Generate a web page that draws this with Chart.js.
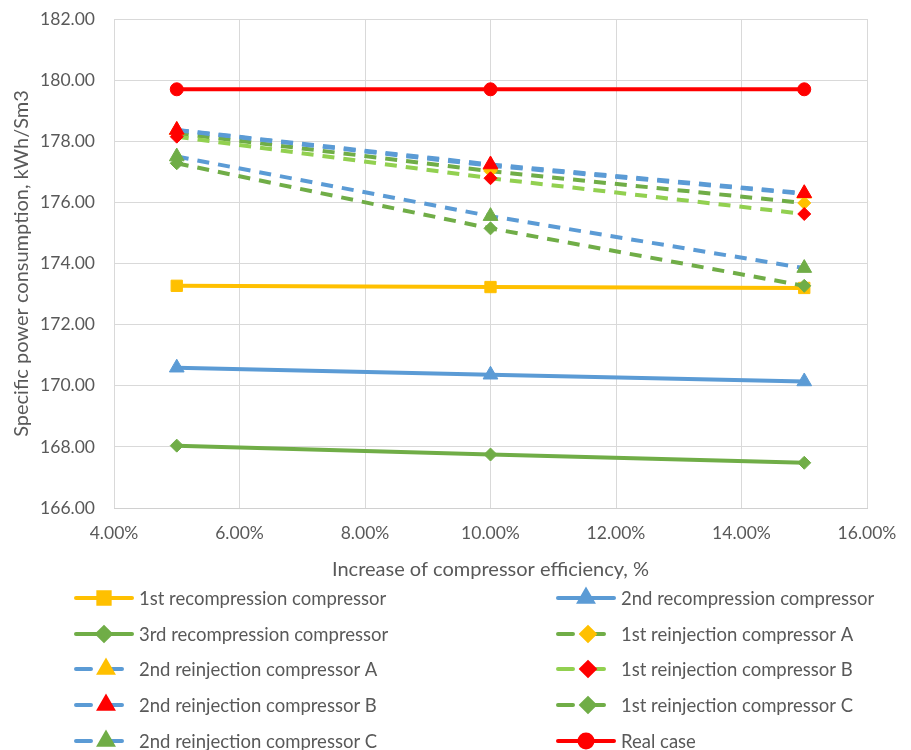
<!DOCTYPE html>
<html>
<head>
<meta charset="utf-8">
<script src="https://cdn.jsdelivr.net/npm/chart.js@4.4.0/dist/chart.umd.min.js"></script>
<style>
  html, body { margin: 0; padding: 0; background: #fff; }
  #wrap { width: 911px; height: 750px; }
</style>
</head>
<body>
<div id="wrap"><canvas id="chart" width="911" height="750"></canvas></div>
<script>
// efficiency increase (x values)
var efficiency = [0.05, 0.10, 0.15];

var seriesNames = [
    '1st recompression compressor',
    '2nd recompression compressor',
    '3rd recompression compressor',
    '1st reinjection compressor A',
    '2nd reinjection compressor A',
    '1st reinjection compressor B',
    '2nd reinjection compressor B',
    '1st reinjection compressor C',
    '2nd reinjection compressor C',
    'Real case'
];

// specific power consumption, kWh/Sm3
var recomp1 = [173.27, 173.23, 173.20];
var recomp2 = [170.59, 170.36, 170.14];
var recomp3 = [168.04, 167.75, 167.48];
var reinj1A = [178.26, 177.02, 175.98];
var reinj2A = [178.36, 177.20, 176.28];
var reinj1B = [178.15, 176.79, 175.62];
var reinj2B = [178.37, 177.24, 176.30];
var reinj1C = [177.28, 175.15, 173.27];
var reinj2C = [177.50, 175.55, 173.85];
var realCase = [179.70, 179.70, 179.70];

var yTicks = [166, 168, 170, 172, 174, 176, 178, 180, 182];
var xTicks = [0.04, 0.06, 0.08, 0.10, 0.12, 0.14, 0.16];

var YELLOW = '#FFC000', BLUE = '#5B9BD5', GREEN = '#70AD47', LIGHTGREEN = '#92D050', RED = '#FF0000';
var FONT = 'Lato';

function pts(values) {
    return values.map((v, i) => ({ x: efficiency[i], y: v }));
}

function makeSet(i, values, lineColor, markColor, style, dashed) {
    var r = 7;
    switch (style) {
        case 'rect': r = 8; break;
        case 'triangle': r = 8.5; break;
        case 'circle': r = 6.5; break;
        case 'rectRot': r = 6.5; break;
    }
    return {
        label: seriesNames[i],
        data: pts(values),
        borderColor: lineColor,
        backgroundColor: markColor,
        pointBackgroundColor: markColor,
        pointBorderColor: markColor,
        pointBorderWidth: 1,
        pointStyle: style,
        pointRadius: r,
        borderWidth: 4,
        borderDash: dashed ? [12, 9] : [],
        tension: 0,
        order: 20 - i
    };
}

var datasets = [
    makeSet(0, recomp1, YELLOW, YELLOW, 'rect', false),
    makeSet(1, recomp2, BLUE, BLUE, 'triangle', false),
    makeSet(2, recomp3, GREEN, GREEN, 'rectRot', false),
    makeSet(3, reinj1A, GREEN, YELLOW, 'rectRot', true),
    makeSet(4, reinj2A, BLUE, YELLOW, 'triangle', true),
    makeSet(5, reinj1B, LIGHTGREEN, RED, 'rectRot', true),
    makeSet(6, reinj2B, BLUE, RED, 'triangle', true),
    makeSet(7, reinj1C, GREEN, GREEN, 'rectRot', true),
    makeSet(8, reinj2C, BLUE, GREEN, 'triangle', true),
    makeSet(9, realCase, RED, RED, 'circle', false)
];

// two-column legend drawn under the axis title
var twoColLegend = {
    id: 'twoColLegend',
    afterDraw(chart) {
        var ctx = chart.ctx;
        var rows = [598, 634, 669, 705, 741];
        var cols = [75, 557];
        ctx.save();
        ctx.lineCap = 'round';
        chart.data.datasets.forEach((ds, i) => {
            var x0 = cols[i % 2], y = rows[Math.floor(i / 2)];
            var mx = x0 + 29;
            ctx.strokeStyle = ds.borderColor;
            ctx.lineWidth = 4;
            ctx.beginPath();
            if (ds.borderDash.length) {
                ctx.moveTo(x0 + 1, y); ctx.lineTo(x0 + 16, y);
                ctx.moveTo(x0 + 36, y); ctx.lineTo(x0 + 47, y);
                mx = x0 + 31;
            } else {
                ctx.moveTo(x0 + 1, y); ctx.lineTo(x0 + 57, y);
            }
            ctx.stroke();
            ctx.fillStyle = ds.pointBackgroundColor;
            ctx.strokeStyle = ds.pointBorderColor;
            Chart.helpers.drawPoint(ctx, {
                pointStyle: ds.pointStyle,
                radius: ds.pointStyle === 'triangle' ? 7.5 : ds.pointRadius,
                rotation: 0,
                borderWidth: 1
            }, mx, y);
            ctx.fillStyle = '#595959';
            ctx.font = '18.5px ' + FONT;
            ctx.textBaseline = 'middle';
            ctx.textAlign = 'left';
            ctx.fillText(ds.label, x0 + 64, y + 1);
        });
        ctx.restore();
    }
};

var ctx = document.getElementById('chart').getContext('2d');
var myChart = new Chart(ctx, {
    type: 'line',
    data: { datasets: datasets },
    options: {
        responsive: false,
        animation: false,
        layout: { padding: { left: 6, right: 44, top: 19, bottom: 164 } },
        plugins: {
            legend: { display: false },
            tooltip: { enabled: false }
        },
        scales: {
            x: {
                type: 'linear',
                min: 0.04,
                max: 0.16,
                afterBuildTicks: (s) => { s.ticks = xTicks.map(v => ({ value: v })); },
                afterFit: (s) => { s.height = 78; s.paddingRight = 0; s.paddingLeft = 0; },
                ticks: {
                    color: '#595959',
                    font: { family: FONT, size: 17.5 },
                    padding: 15,
                    maxRotation: 0,
                    callback: (v) => (v * 100).toFixed(2) + '%'
                },
                grid: { color: '#d9d9d9', lineWidth: 1, drawTicks: false },
                border: { color: '#d0d0d0', width: 1 },
                title: {
                    display: true,
                    text: 'Increase of compressor efficiency, %',
                    color: '#595959',
                    font: { family: FONT, size: 20 }
                }
            },
            y: {
                min: 166,
                max: 182,
                afterBuildTicks: (s) => { s.ticks = yTicks.map(v => ({ value: v })); },
                afterFit: (s) => { s.width = 108; s.paddingTop = 0; s.paddingBottom = 0; },
                ticks: {
                    color: '#595959',
                    font: { family: FONT, size: 17.5 },
                    padding: 19,
                    callback: (v) => v.toFixed(2)
                },
                grid: { color: '#d9d9d9', lineWidth: 1, drawTicks: false },
                border: { display: false },
                title: {
                    display: true,
                    text: 'Specific power consumption, kWh/Sm3',
                    color: '#595959',
                    font: { family: FONT, size: 20 }
                }
            }
        }
    },
    plugins: [twoColLegend]
});
</script>
</body>
</html>
